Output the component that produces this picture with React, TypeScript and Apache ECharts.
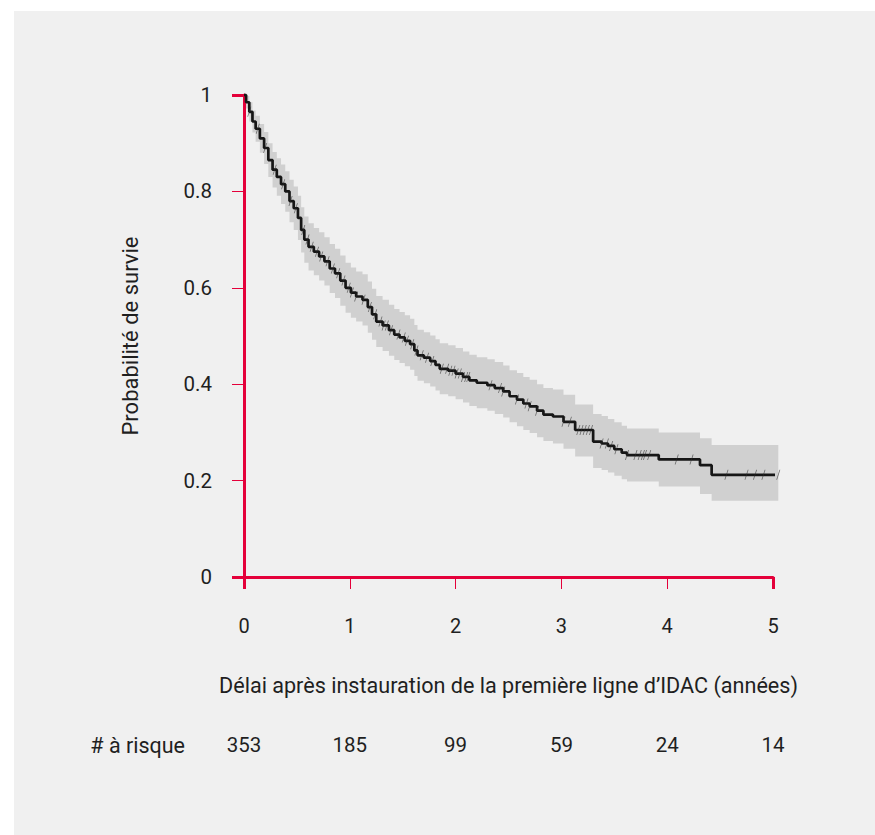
import React, { useEffect, useRef } from "react";
import * as echarts from "echarts";

// Kaplan-Meier step times (years) and survival estimates with 95% CI
const timePoints = [
  0.0, 0.02, 0.05, 0.08, 0.11, 0.15, 0.19, 0.23, 0.27, 0.31, 0.35, 0.39, 0.43, 0.47, 0.51, 0.54, 0.57,
  0.61, 0.66, 0.71, 0.76, 0.81, 0.86, 0.91, 0.96, 1.01, 1.06, 1.12, 1.17, 1.21, 1.25, 1.31, 1.37, 1.42,
  1.47, 1.52, 1.57, 1.61, 1.64, 1.7, 1.76, 1.81, 1.85, 1.93, 2.0, 2.07, 2.13, 2.2, 2.3, 2.37, 2.45,
  2.51, 2.58, 2.64, 2.7, 2.77, 2.83, 2.92, 3.02, 3.13, 3.3, 3.38, 3.44, 3.5, 3.57, 3.62, 3.92, 4.31, 4.42,
];
const survival = [
  1.0, 0.985, 0.965, 0.945, 0.93, 0.91, 0.89, 0.865, 0.845, 0.83, 0.815, 0.8, 0.78, 0.765, 0.745, 0.72, 0.7,
  0.685, 0.675, 0.665, 0.655, 0.64, 0.63, 0.615, 0.6, 0.59, 0.582, 0.575, 0.56, 0.545, 0.53, 0.522, 0.512, 0.503,
  0.497, 0.49, 0.483, 0.47, 0.46, 0.455, 0.448, 0.44, 0.432, 0.428, 0.422, 0.415, 0.408, 0.403, 0.398, 0.392, 0.385,
  0.375, 0.368, 0.36, 0.354, 0.345, 0.337, 0.333, 0.322, 0.305, 0.281, 0.277, 0.272, 0.265, 0.258, 0.253, 0.244, 0.232, 0.212,
];
const lowerCI = [
  1.0, 0.972, 0.945, 0.922, 0.903, 0.88, 0.857, 0.83, 0.808, 0.791, 0.774, 0.758, 0.736, 0.72, 0.699, 0.673, 0.652,
  0.636, 0.626, 0.615, 0.605, 0.589, 0.579, 0.563, 0.548, 0.538, 0.53, 0.522, 0.507, 0.492, 0.477, 0.469, 0.459, 0.45,
  0.444, 0.437, 0.43, 0.417, 0.407, 0.402, 0.395, 0.387, 0.379, 0.375, 0.369, 0.362, 0.355, 0.35, 0.345, 0.338, 0.331,
  0.321, 0.313, 0.305, 0.299, 0.29, 0.282, 0.277, 0.266, 0.25, 0.226, 0.222, 0.217, 0.21, 0.203, 0.198, 0.188, 0.172, 0.158,
];
const upperCI = [
  1.0, 0.998, 0.985, 0.968, 0.957, 0.94, 0.923, 0.9, 0.882, 0.869, 0.856, 0.842, 0.824, 0.81, 0.791, 0.767, 0.748,
  0.734, 0.724, 0.715, 0.705, 0.691, 0.681, 0.667, 0.652, 0.642, 0.634, 0.628, 0.613, 0.598, 0.583, 0.575, 0.565, 0.556,
  0.55, 0.543, 0.536, 0.523, 0.513, 0.508, 0.501, 0.493, 0.485, 0.481, 0.475, 0.468, 0.461, 0.456, 0.452, 0.446, 0.439,
  0.429, 0.423, 0.415, 0.409, 0.4, 0.392, 0.389, 0.378, 0.358, 0.338, 0.334, 0.328, 0.321, 0.314, 0.308, 0.3, 0.288, 0.274,
];
const endTime = 5.05;

// censored observations (years)
const censorTimes = [
  0.05, 0.13, 0.2, 0.29, 0.37, 0.44, 0.49, 0.56, 0.6, 0.64, 0.69, 0.73, 0.79, 0.84, 0.89, 0.94, 0.99,
  1.02, 1.06, 1.13, 1.19, 1.24, 1.29, 1.32, 1.35, 1.39, 1.46, 1.51, 1.54, 1.59, 1.63, 1.68, 1.73, 1.78,
  1.87, 1.92, 1.95, 1.98, 2.01, 2.04, 2.07, 2.1, 2.12, 2.33, 2.42, 2.45, 2.58, 2.67, 2.7, 2.77,
  3.02, 3.08, 3.16, 3.19, 3.22, 3.25, 3.28, 3.38, 3.43, 3.47, 3.52, 3.62, 3.7, 3.74, 3.77, 3.79, 3.83,
  4.09, 4.23, 4.56, 4.75, 4.83, 4.91, 5.05,
];

const riskTicks = [0, 1, 2, 3, 4, 5];
const riskCounts = [353, 185, 99, 59, 24, 14];

const RED = "#e4003a";
const TEXT = "#1f1f1f";
const FONT = "Roboto";

function survivalAt(t: number): number {
  let s = survival[0];
  for (let i = 0; i < timePoints.length; i++) {
    if (timePoints[i] <= t) s = survival[i];
  }
  return s;
}

export default function App() {
  const ref = useRef<HTMLDivElement>(null);

  useEffect(() => {
    if (!ref.current) return;
    const chart = echarts.init(ref.current, undefined, { renderer: "svg" });

    const lineData = timePoints.map((t, i) => [t, survival[i]]);
    lineData.push([endTime, survival[survival.length - 1]]);
    const censorData = censorTimes.map((t) => [t, survivalAt(t)]);

    const option: any = {
      animation: false,
      backgroundColor: "#f0f0f0",
      textStyle: { fontFamily: FONT },
      grid: { left: 230, right: 102, top: 84, bottom: 258 },
      xAxis: [
        {
          type: "value",
          min: 0,
          max: 5,
          interval: 1,
          position: "bottom",
          axisLine: { show: true, onZero: false, lineStyle: { color: RED, width: 3 } },
          axisTick: { show: true, length: 12, lineStyle: { color: RED, width: 1 } },
          splitLine: { show: false },
          axisLabel: { color: TEXT, fontSize: 20, margin: 39, fontFamily: FONT },
          name: "Délai après instauration de la première ligne d’IDAC (années)",
          nameLocation: "middle",
          nameGap: 97,
          nameTextStyle: { color: TEXT, fontSize: 21.6, fontFamily: FONT },
        },
        {
          type: "value",
          min: 0,
          max: 5,
          interval: 5,
          position: "bottom",
          axisLine: { show: false, onZero: false },
          axisTick: { show: true, length: 12, lineStyle: { color: RED, width: 3 } },
          axisLabel: { show: false },
          splitLine: { show: false },
        },
        {
          type: "value",
          min: 0,
          max: 5,
          interval: 1,
          position: "bottom",
          offset: 168,
          axisLine: { show: false, onZero: false },
          axisTick: { show: false },
          splitLine: { show: false },
          axisLabel: {
            color: TEXT,
            fontSize: 20.5,
            fontFamily: FONT,
            margin: 0,
            verticalAlign: "middle",
            formatter: (v: number) => {
              const idx = riskTicks.indexOf(Math.round(v));
              return idx >= 0 ? String(riskCounts[idx]) : "";
            },
          },
          name: "# à risque",
          nameLocation: "start",
          nameGap: 59,
          nameTextStyle: { color: TEXT, fontSize: 21.5, fontFamily: FONT },
        },
      ],
      yAxis: [
        {
          type: "value",
          min: 0,
          max: 1,
          interval: 0.2,
          position: "left",
          axisLine: { show: true, onZero: false, lineStyle: { color: RED, width: 3 } },
          axisTick: { show: true, length: 12, lineStyle: { color: RED, width: 1 } },
          splitLine: { show: false },
          axisLabel: { color: TEXT, fontSize: 20.5, margin: 32, fontFamily: FONT },
          name: "Probabilité de survie",
          nameLocation: "middle",
          nameGap: 103,
          nameRotate: 90,
          nameTextStyle: { color: TEXT, fontSize: 22, fontFamily: FONT },
        },
        {
          type: "value",
          min: 0,
          max: 1,
          interval: 1,
          position: "left",
          axisLine: { show: false, onZero: false },
          axisTick: { show: true, length: 12, lineStyle: { color: RED, width: 3 } },
          axisLabel: { show: false },
          splitLine: { show: false },
        },
      ],
      series: [
        {
          type: "custom",
          xAxisIndex: 0,
          yAxisIndex: 0,
          clip: false,
          z: 1,
          data: [[0, 0]],
          renderItem: (params: any, api: any) => {
            const pts: number[][] = [];
            const n = timePoints.length;
            for (let i = 0; i < n; i++) {
              const t0 = timePoints[i];
              const t1 = i + 1 < n ? timePoints[i + 1] : endTime;
              pts.push(api.coord([t0, upperCI[i]]));
              pts.push(api.coord([t1, upperCI[i]]));
            }
            for (let i = n - 1; i >= 0; i--) {
              const t0 = timePoints[i];
              const t1 = i + 1 < n ? timePoints[i + 1] : endTime;
              pts.push(api.coord([t1, lowerCI[i]]));
              pts.push(api.coord([t0, lowerCI[i]]));
            }
            return {
              type: "polygon",
              shape: { points: pts },
              style: { fill: "#d0d0d0", stroke: "none" },
            };
          },
        },
        {
          type: "line",
          xAxisIndex: 0,
          yAxisIndex: 0,
          step: "end",
          clip: false,
          z: 3,
          showSymbol: false,
          symbol: "none",
          data: lineData,
          lineStyle: { color: "#161616", width: 2.7 },
        },
        {
          type: "scatter",
          xAxisIndex: 0,
          yAxisIndex: 0,
          clip: false,
          z: 4,
          symbol: "path://M3.2,0 L4,0 L0.8,10 L0,10 Z",
          symbolSize: [4, 10],
          data: censorData,
          itemStyle: { color: "rgba(45,45,45,0.8)" },
        },
      ],
    };

    chart.setOption(option);
    return () => chart.dispose();
  }, []);

  return (
    <div style={{ position: "absolute", left: 0, top: 0, width: 875, height: 835, background: "#ffffff" }}>
      <div ref={ref} style={{ position: "absolute", left: 14, top: 11, width: 861, height: 824 }} />
    </div>
  );
}
